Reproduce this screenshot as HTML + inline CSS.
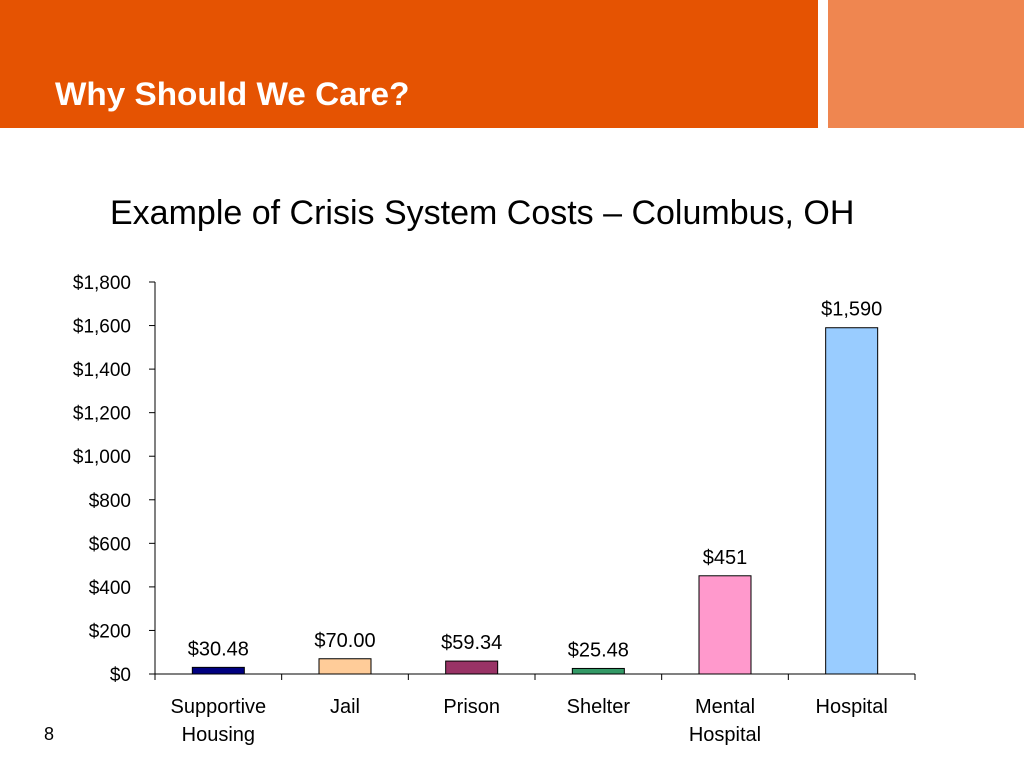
<!DOCTYPE html>
<html><head><meta charset="utf-8"><style>
body{margin:0;width:1024px;height:768px;background:#fff;overflow:hidden;position:relative;font-family:"Liberation Sans",sans-serif}
#hdr{position:absolute;left:0;top:0;width:818px;height:128px;background:#E55302}
#hdr2{position:absolute;left:828px;top:0;width:196px;height:128px;background:#EF8650}
#title{position:absolute;left:55px;top:76px;color:#fff;font-weight:bold;font-size:32px;transform-origin:0 0;transform:scaleX(1.04)}
#ctitle{position:absolute;left:110px;top:194px;font-size:34px;color:#000;white-space:nowrap}
#pn{position:absolute;left:44px;top:724px;font-size:18px}
</style></head><body>
<div id="hdr"></div>
<div id="hdr2"></div>
<div id="title">Why Should We Care?</div>
<div id="ctitle">Example of Crisis System Costs – Columbus, OH</div>
<div id="pn">8</div>
<svg id="chart" width="1024" height="768" style="position:absolute;left:0;top:0"></svg>
<script>
const categories=[["Supportive","Housing"],["Jail"],["Prison"],["Shelter"],["Mental","Hospital"],["Hospital"]];
const values=[30.48,70.00,59.34,25.48,451,1590];
const valueLabels=["$30.48","$70.00","$59.34","$25.48","$451","$1,590"];
const colors=["#000080","#FFCC99","#993366","#339966","#FF99CC","#99CCFF"];
const ticks=[0,200,400,600,800,1000,1200,1400,1600,1800];
const tickLabels=["$0","$200","$400","$600","$800","$1,000","$1,200","$1,400","$1,600","$1,800"];
const svg=document.getElementById('chart');const NS='http://www.w3.org/2000/svg';
const x0=155,x1=915,y0=674,y1=282,maxV=1800;
const y=v=>y0-(v/maxV)*(y0-y1);
const bw=(x1-x0)/categories.length;
const xc=i=>x0+bw*(i+0.5);
function mk(t,a,txt){const e=document.createElementNS(NS,t);for(const k in a)e.setAttribute(k,a[k]);if(txt!==undefined)e.textContent=txt;svg.appendChild(e);return e;}
let e=mk('line',{x1:x0,y1:y1,x2:x0,y2:y0,stroke:'#000','stroke-width':1});


e=mk('line',{x1:x0,y1:y0,x2:x1,y2:y0,stroke:'#000','stroke-width':1});


ticks.forEach((t,i)=>{
 mk('line',{x1:x0-6,y1:y(t),x2:x0,y2:y(t),stroke:'#000'});
 e=mk('text',{x:x0-24,y:y(t)+7,'text-anchor':'end','font-size':19,'font-family':'"Liberation Sans Narrow","Liberation Sans",sans-serif'},tickLabels[i]);
 
 
});
for(let i=0;i<=categories.length;i++)mk('line',{x1:x0+bw*i,y1:y0,x2:x0+bw*i,y2:y0+6,stroke:'#000'});
values.forEach((v,i)=>{
 e=mk('rect',{x:xc(i)-26,y:y(v),width:52,height:y0-y(v),fill:colors[i],stroke:'#000','stroke-width':1});
 
 
 e=mk('text',{x:xc(i),y:y(v)-12,'text-anchor':'middle','font-size':20,'font-family':'"Liberation Sans Narrow","Liberation Sans",sans-serif'},valueLabels[i]);
 
 
 categories[i].forEach((ln,j)=>{
  e=mk('text',{x:xc(i),y:713+j*28,'text-anchor':'middle','font-size':20},ln);
  
  
 });
});
</script>
</body></html>
